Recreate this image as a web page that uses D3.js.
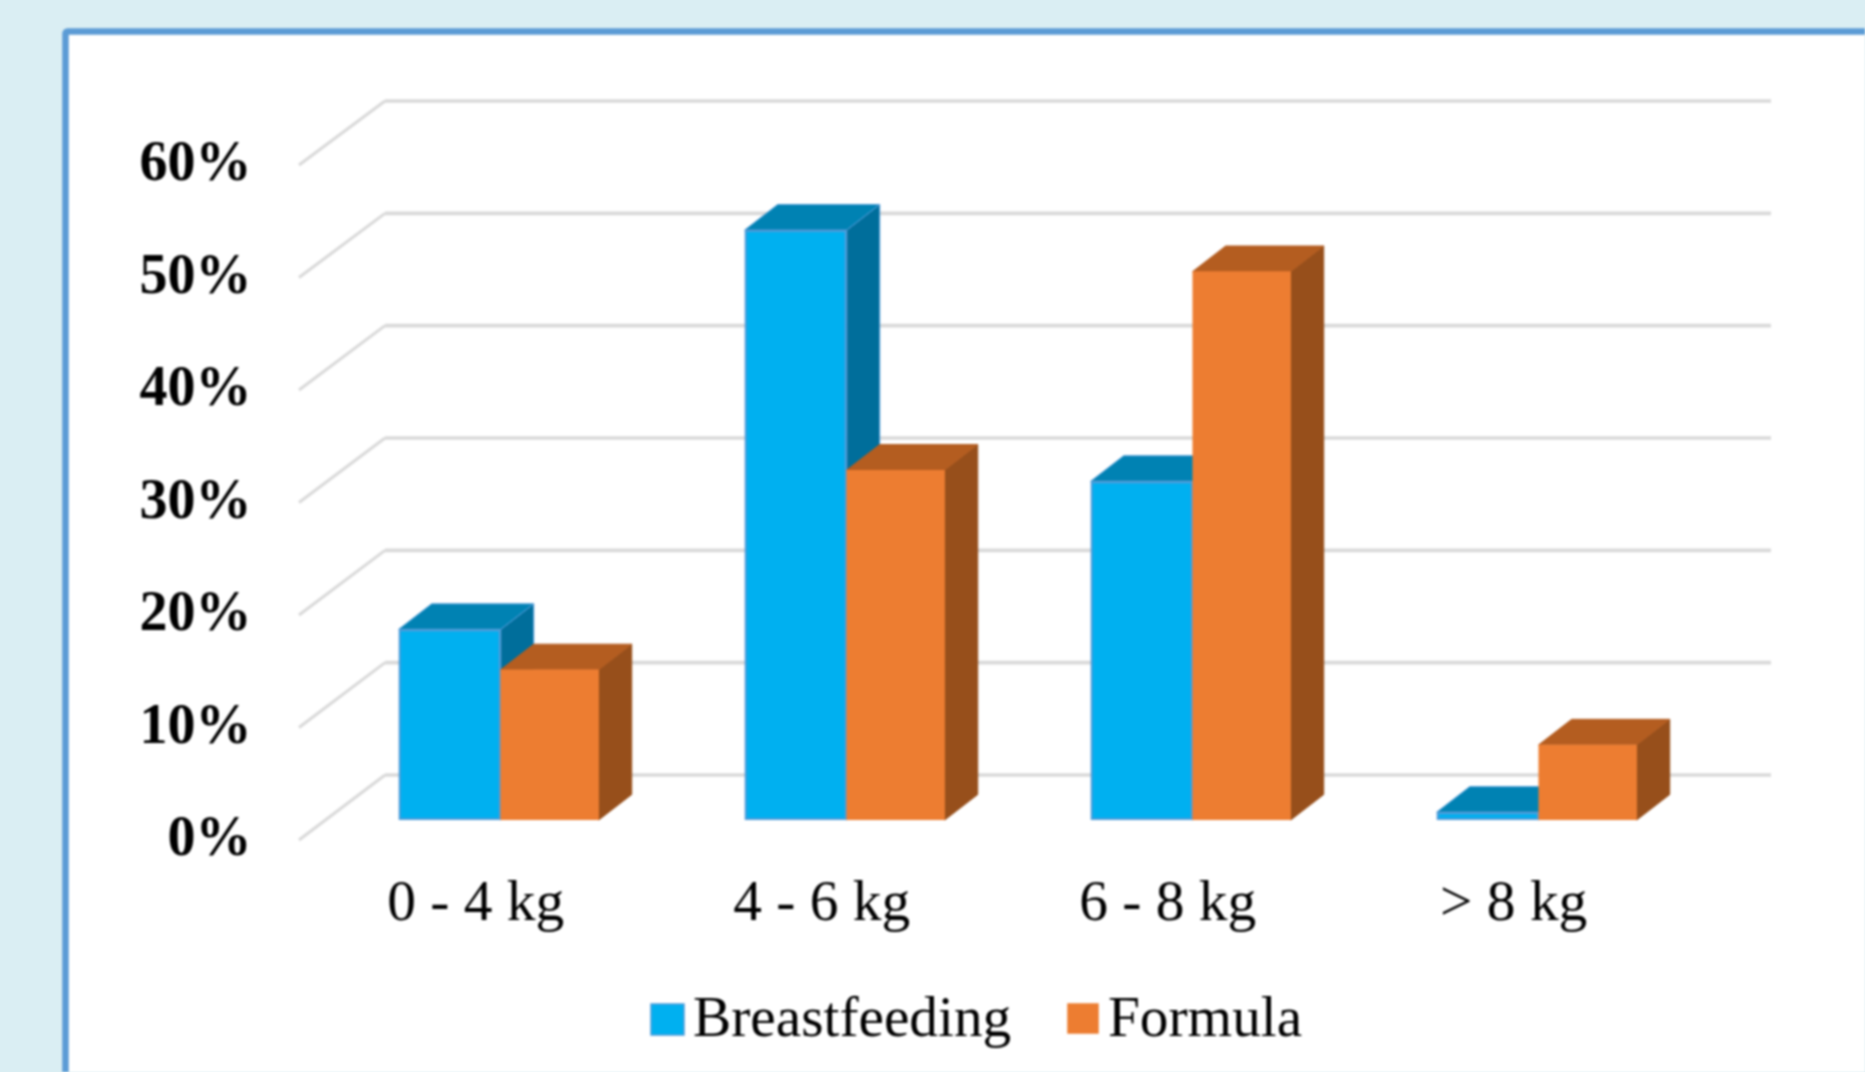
<!DOCTYPE html>
<html><head><meta charset="utf-8">
<script src="https://cdn.jsdelivr.net/npm/d3@7"></script>
<style>
html,body{margin:0;padding:0;background:#DAEEF3;overflow:hidden}
svg{display:block;filter:blur(0.8px)}
text{font-family:"Liberation Serif",serif;fill:#000}
</style></head><body>
<svg id="c" width="1865" height="1072"></svg>
<script>
const categories = ["0 - 4 kg", "4 - 6 kg", "6 - 8 kg", "> 8 kg"];
const seriesNames = ["Breastfeeding", "Formula"];
const breastfeeding = [17.0, 52.6, 30.2, 0.7];
const formula = [13.4, 31.2, 48.9, 6.7];
const yTicks = [0, 10, 20, 30, 40, 50, 60];

const colours = {
  Breastfeeding: {front: "#00B0F0", top: "#0082B3", side: "#006E9B", edge: "#4F9BD9"},
  Formula: {front: "#ED7D31", top: "#B45D20", side: "#974F1B", edge: "#ED7D31"}
};
const svg = d3.select("#c");

// panel
svg.append("rect").attr("x", 65.5).attr("y", 31.5).attr("width", 2000).attr("height", 1200).attr("rx", 2)
  .attr("fill", "#fff").attr("stroke", "#5B9BD5").attr("stroke-width", 6.5);

const yFront = d3.scaleLinear().domain([0, 60]).range([840, 165]);
const yBack = d3.scaleLinear().domain([0, 60]).range([775, 101]);
const yBar = d3.scaleLinear().domain([0, 60]).range([820, 147]);
const x0 = d3.scaleBand().domain(categories).range([325.7, 1709.7]).paddingInner(0.422).paddingOuter(0.211);
const splitShare = 0.51;
const frontX = 299, backX = 385, rightX = 1771;
const depthX = 33, depthY = 25.5;

// walls: gridlines
const grid = svg.append("g");
grid.selectAll("line.h").data(yTicks).join("line").attr("class", "h")
  .attr("x1", backX).attr("x2", rightX).attr("y1", d => yBack(d)).attr("y2", d => yBack(d))
  .attr("stroke", "#D9D9D9").attr("stroke-width", 3.6);
grid.selectAll("line.d").data(yTicks).join("line").attr("class", "d")
  .attr("x1", frontX).attr("x2", backX).attr("y1", d => yFront(d)).attr("y2", d => yBack(d))
  .attr("stroke", "#D9D9D9").attr("stroke-width", 3);

// bars
const rows = categories.flatMap((c, i) => [
  {c, s: "Breastfeeding", v: breastfeeding[i]},
  {c, s: "Formula", v: formula[i]}
]);
const bars = svg.append("g").selectAll("g").data(rows).join("g");
const path = pts => "M" + pts.map(p => p.join(",")).join("L") + "Z";
bars.each(function (d) {
  const g = d3.select(this), col = colours[d.s];
  const isB = d.s === "Breastfeeding";
  const split = x0(d.c) + x0.bandwidth() * splitShare;
  const l = isB ? x0(d.c) : split, r = isB ? split : x0(d.c) + x0.bandwidth();
  const t = yBar(d.v), b = yBar(0);
  g.append("path").attr("d", path([[r, t], [r + depthX, t - depthY], [r + depthX, b - depthY], [r, b]]))
    .attr("fill", col.side).attr("stroke", isB ? col.edge : col.side).attr("stroke-width", 1);
  g.append("path").attr("d", path([[l, t], [l + depthX, t - depthY], [r + depthX, t - depthY], [r, t]]))
    .attr("fill", col.top).attr("stroke", isB ? col.edge : col.top).attr("stroke-width", 1);
  g.append("rect").attr("x", l).attr("y", t).attr("width", r - l).attr("height", b - t)
    .attr("fill", isB ? col.edge : col.front);
  const inset = isB ? 2 : 0;
  g.append("rect").attr("x", l + inset).attr("y", t + inset)
    .attr("width", Math.max(0, r - l - 2 * inset)).attr("height", Math.max(0, b - t - 2 * inset))
    .attr("fill", col.front);
});

// y axis
const yAxis = svg.append("g").attr("transform", "translate(251.5,0)")
  .call(d3.axisLeft(yFront).tickValues(yTicks).tickSize(0).tickPadding(0).tickFormat(d => d + "%"));
yAxis.select(".domain").remove();
yAxis.selectAll("text").attr("dy", 14.5).attr("font-size", 56).attr("font-weight", "bold")
  .style("font-family", '"Liberation Serif",serif');

// x axis
const xAxis = svg.append("g").attr("transform", "translate(-23,920)")
  .call(d3.axisBottom(x0).tickSize(0).tickPadding(0));
xAxis.select(".domain").remove();
xAxis.selectAll("text").attr("y", 0).attr("dy", 0).attr("font-size", 57.4)
  .style("font-family", '"Liberation Serif",serif');

// legend
const swatchX = [651, 1068], textX = [693, 1108];
const legend = svg.append("g").selectAll("g").data(seriesNames).join("g");
legend.append("rect").attr("x", (d, i) => swatchX[i]).attr("y", 1004).attr("width", (d, i) => i ? 30 : 33).attr("height", (d, i) => i ? 29 : 31)
  .attr("fill", d => colours[d].front).attr("stroke", d => colours[d].edge).attr("stroke-width", 1.5);
legend.append("text").attr("x", (d, i) => textX[i]).attr("y", 1036).attr("font-size", 57.3).text(d => d);
</script>
</body></html>
